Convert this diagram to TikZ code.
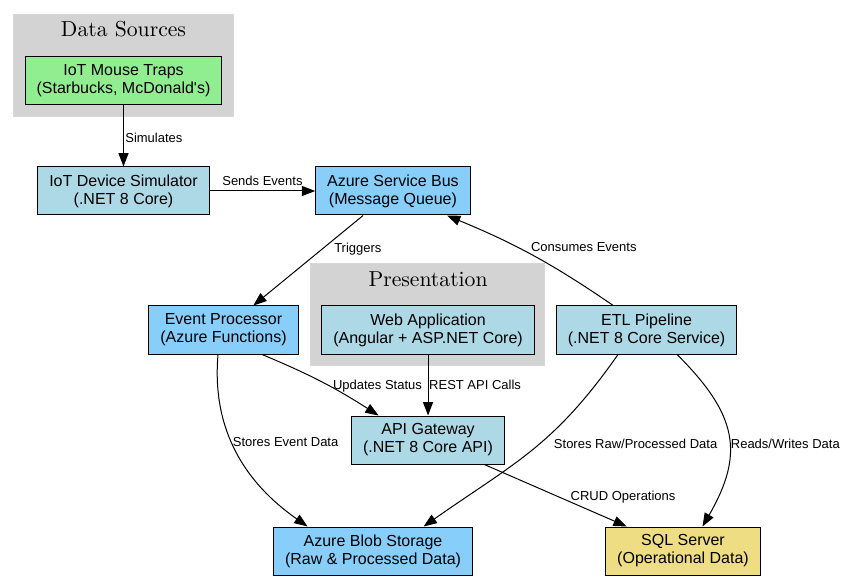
\documentclass[tikz,border=0pt]{standalone}
\usepackage{fontspec}
\newfontfamily\arialfont{Liberation Sans}
\newfontfamily\titlefont{lmroman10-regular}[Extension=.otf]
\usepackage{tikz}
\usetikzlibrary{positioning,arrows.meta,backgrounds}

\definecolor{srcgreen}{HTML}{90EE90}
\definecolor{svcblue}{HTML}{ADD8E6}
\definecolor{azblue}{HTML}{87CEFA}
\definecolor{dbgold}{HTML}{EEDD82}
\definecolor{clgray}{HTML}{D3D3D3}

\begin{document}
\begin{tikzpicture}[x=0.75pt,y=-0.75pt,on grid,node distance=3cm,line width=0.75pt,
  >={Triangle[length=10pt,width=7.5pt]},
  box/.style={draw=black,align=center,minimum height=36pt,inner xsep=8.6pt,
    font=\arialfont\fontsize{12}{13.5}\selectfont},
  lbl/.style={font=\arialfont\fontsize{9.75}{11}\selectfont,inner sep=1pt},
  cltitle/.style={font=\titlefont\fontsize{16.25}{18}\selectfont,inner sep=0pt},
  cluster/.style={fill=clgray,draw=clgray!90!white,line width=0.75pt}]
  \useasboundingbox (0,0) rectangle (847,581);

  \node[box,fill=srcgreen] (traps) at (123.5,81) {IoT Mouse Traps\\(Starbucks, McDonald's)};
  \node[box,fill=svcblue] (sim) [below = 82.5pt of traps] {IoT Device Simulator\\(.NET 8 Core)};
  \node[box,fill=azblue] (bus) [right = 202.1pt of sim] {Azure Service Bus\\(Message Queue)};

  \node[box,fill=azblue] (evp) [below right = 104.25pt and 75pt of sim] {Event Processor\\(Azure Functions)};
  \node[box,fill=svcblue] (web) [right = 153.4pt of evp] {Web Application\\(Angular + ASP.NET Core)};
  \node[box,fill=svcblue] (etl) [right = 163.9pt of web] {ETL Pipeline\\(.NET 8 Core Service)};

  \node[box,fill=svcblue] (api) [below = 82.5pt of web] {API Gateway\\(.NET 8 Core API)};
  \node[box,fill=azblue] (blob) [below left = 83.25pt and 41.25pt of api] {Azure Blob Storage\\(Raw \& Processed Data)};
  \node[box,fill=dbgold] (sql) [right = 232.5pt of blob] {SQL Server\\(Operational Data)};

  \node[cltitle] (dstitle) [above = 39.2pt of traps] {Data Sources};
  \node[cltitle] (prtitle) [above = 38.4pt of web] {Presentation};

  \begin{scope}[on background layer]
    \draw[cluster] ([xshift=-8.25pt,yshift=-8.25pt]traps.south west) rectangle ([xshift=8.25pt,yshift=31.5pt]traps.north east);
    \draw[cluster] ([xshift=-8.25pt,yshift=-8.25pt]web.south west) rectangle ([xshift=7.5pt,yshift=31.5pt]web.north east);
  \end{scope}

  \path[->]
  (traps)
  edge node [lbl,right=0pt,yshift=-1.5pt] {Simulates} (sim)
  (sim)
  edge node [lbl,above=2.5pt] {Sends Events} (bus)
  (bus)
  edge node [lbl,pos=0.34,right=5pt,yshift=-2.25pt] {Triggers} (evp)
  ([xshift=-25pt]etl.north)
  edge [bend right=6] node [lbl,pos=0.66,right=16pt,yshift=-3pt] {Consumes Events} ([xshift=40.5pt]bus.south)
  ([xshift=28.9pt]evp.south)
  edge [bend left=5] node [lbl,pos=0.5,right=7pt,yshift=-3pt] {Updates Status} ([xshift=-37.1pt]api.north)
  (web)
  edge node [lbl,right=0pt,inner sep=0.5pt] {REST API Calls} (api)
  ([xshift=-4.1pt]evp.south)
  edge [out=-95,in=145] node [lbl,pos=0.43,right=0pt,yshift=-1.5pt] {Stores Event Data} ([xshift=-49.1pt]blob.north)
  ([xshift=-21.4pt]etl.south)
  edge [out=-125,in=35,looseness=1.1] node [lbl,pos=0.45,right=9.3pt] {Stores Raw/Processed Data} ([xshift=37.9pt]blob.north)
  ([xshift=22.9pt]etl.south)
  edge [out=-45,in=60,looseness=1.25] node [lbl,pos=0.55,right=0pt] {Reads/Writes Data} ([xshift=14.6pt]sql.north)
  (api)
  edge node [lbl,pos=0.5,right=10pt,yshift=-1.5pt] {CRUD Operations} (sql)
  ;
\end{tikzpicture}
\end{document}
